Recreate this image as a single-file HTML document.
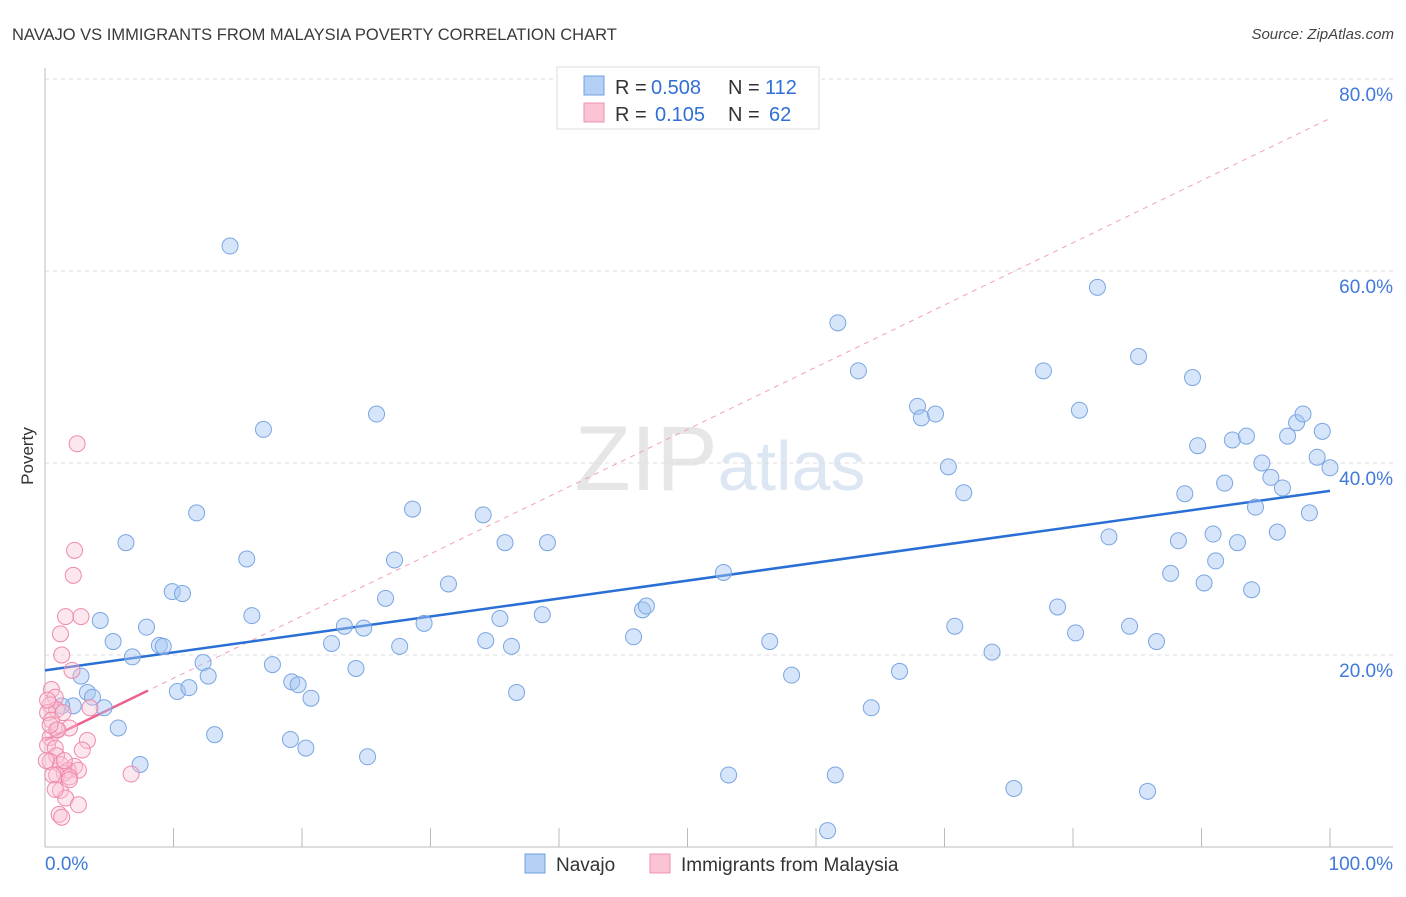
<!DOCTYPE html>
<html><head><meta charset="utf-8"><style>
body{margin:0;background:#fff;font-family:"Liberation Sans",sans-serif;}
svg text{font-family:"Liberation Sans",sans-serif;}
</style></head><body>
<svg id="chart" width="1406" height="892" xmlns="http://www.w3.org/2000/svg">
<text x="12" y="40" font-size="16.5" fill="#3a3a3a">NAVAJO VS IMMIGRANTS FROM MALAYSIA POVERTY CORRELATION CHART</text>
<text x="1394" y="39" font-size="15" fill="#444" text-anchor="end" font-style="italic">Source: ZipAtlas.com</text>
<text x="720" y="490" font-size="92" text-anchor="middle" fill="#e6e6e6" font-family="Liberation Serif">ZIP<tspan fill="#dde6f3" font-family="Liberation Sans" font-size="70">atlas</tspan></text>
<text transform="translate(33,456) rotate(-90)" font-size="17" fill="#333" text-anchor="middle">Poverty</text>
<g id="grid"></g><g id="axes"></g><g id="lines"></g><g id="pts"></g>
<g>
<rect x="557" y="67" width="262" height="62" fill="#fff" stroke="#ddd"/>
<rect x="584" y="76" width="20" height="19" fill="#b5d0f5" stroke="#6fa0e0"/>
<rect x="584" y="103" width="20" height="19" fill="#fac4d4" stroke="#ef90ae"/>
<text y="94" font-size="20" fill="#333"><tspan x="615">R =</tspan><tspan x="651" fill="#2f6fd6">0.508</tspan><tspan x="728">N =</tspan><tspan x="765" fill="#2f6fd6">112</tspan></text>
<text y="121" font-size="20" fill="#333"><tspan x="615">R =</tspan><tspan x="655" fill="#2f6fd6">0.105</tspan><tspan x="728">N =</tspan><tspan x="769" fill="#2f6fd6">62</tspan></text>
</g>
<g>
<rect x="525" y="854" width="20" height="19" fill="#b5d0f5" stroke="#6fa0e0"/>
<text x="556" y="871" font-size="19" fill="#333">Navajo</text>
<rect x="650" y="854" width="20" height="19" fill="#fac4d4" stroke="#ef90ae"/>
<text x="681" y="871" font-size="19" fill="#333">Immigrants from Malaysia</text>
</g>
</svg>
<script>
const xTicks=[0,10,20,30,40,50,60,70,80,90,100];
const yTicks=[20,40,60,80];
const navajoX=[14.4,17.0,25.8,6.3,11.8,15.7,9.9,10.7,4.3,5.3,7.9,8.9,9.2,6.8,2.8,3.3,3.7,4.6,2.2,1.3,5.7,7.4,10.3,11.2,12.3,12.7,13.2,16.1,17.7,19.2,19.7,20.7,19.1,20.3,22.3,23.3,24.8,24.2,25.1,26.5,27.2,27.6,28.6,29.5,31.4,34.1,34.3,35.4,35.8,36.3,36.7,38.7,39.1,45.8,46.5,46.8,52.8,53.2,56.4,58.1,60.9,61.5,61.7,63.3,66.5,64.3,67.9,68.2,69.3,70.3,71.5,70.8,73.7,75.4,77.7,78.8,80.2,80.5,81.9,82.8,84.4,85.1,85.8,86.5,87.6,88.2,88.7,89.3,89.7,90.2,90.9,91.1,91.8,92.4,92.8,93.5,93.9,94.2,94.7,95.4,95.9,96.3,96.7,97.4,97.9,98.4,99.0,99.4,100];
const navajoY=[62.6,43.5,45.1,31.7,34.8,30.0,26.6,26.4,23.6,21.4,22.9,21.0,20.9,19.8,17.8,16.1,15.6,14.5,14.7,14.7,12.4,8.6,16.2,16.6,19.2,17.8,11.7,24.1,19.0,17.2,16.9,15.5,11.2,10.3,21.2,23.0,22.8,18.6,9.4,25.9,29.9,20.9,35.2,23.3,27.4,34.6,21.5,23.8,31.7,20.9,16.1,24.2,31.7,21.9,24.7,25.1,28.6,7.5,21.4,17.9,1.7,7.5,54.6,49.6,18.3,14.5,45.9,44.7,45.1,39.6,36.9,23.0,20.3,6.1,49.6,25.0,22.3,45.5,58.3,32.3,23.0,51.1,5.8,21.4,28.5,31.9,36.8,48.9,41.8,27.5,32.6,29.8,37.9,42.4,31.7,42.8,26.8,35.4,40.0,38.5,32.8,37.4,42.8,44.2,45.1,34.8,40.6,43.3,39.5];
const malX=[2.5,2.3,2.2,1.6,2.8,1.2,1.3,2.1,0.5,0.8,0.4,0.9,1.4,0.2,0.5,1.9,0.9,0.4,3.3,0.2,0.8,2.9,0.9,0.4,1.2,2.3,1.8,2.6,1.5,0.9,6.7,1.9,0.6,1.2,1.6,2.6,1.1,1.3,1.0,0.4,1.5,3.5,0.8,1.9,0.2,0.1];
const malY=[42.0,30.9,28.3,24.0,24.0,22.2,20.0,18.4,16.4,15.6,14.8,14.3,14.0,14.0,13.2,12.4,12.2,11.4,11.1,10.6,10.3,10.1,9.5,8.9,8.6,8.4,8.0,8.0,7.7,7.5,7.6,7.3,7.5,5.9,5.1,4.4,3.4,3.1,12.2,12.7,9.0,14.5,6.0,7.0,15.3,9.0];
const navajoTrend=[18.4,37.1];
const malTrend=[11.1,75.9];
const malSolidEnd=8;
const sx=v=>45+v*12.85, sy=v=>847-v*9.6;
const NS="http://www.w3.org/2000/svg";
function mk(tag,attrs,parent){const e=document.createElementNS(NS,tag);for(const k in attrs)e.setAttribute(k,attrs[k]);document.getElementById(parent).appendChild(e);return e;}
yTicks.forEach(t=>{
 const g=mk('line',{x1:45,x2:1393,y1:sy(t),y2:sy(t),stroke:'#ddd','stroke-dasharray':'4,4'},'grid');
 
 
 const l=mk('text',{x:1393,y:sy(t)+22,'font-size':19,fill:'#3f7ad8','text-anchor':'end'},'grid');l.textContent=t.toFixed(1)+'%';
 
 
});
const ax=mk('line',{x1:45,x2:45,y1:68,y2:847,stroke:'#bbb'},'axes');


const bx=mk('line',{x1:45,x2:1393,y1:847,y2:847,stroke:'#bbb'},'axes');


xTicks.forEach(t=>{const e=mk('line',{x1:sx(t),x2:sx(t),y1:828,y2:847,stroke:'#bbb'},'axes');
 
 });
[[0,'0.0%','start',45],[100,'100.0%','end',1393]].forEach(([t,s,a,x])=>{const e=mk('text',{x:x,y:870,'font-size':19,fill:'#3f7ad8','text-anchor':a},'axes');e.textContent=s;
 
 });
const md=mk('line',{x1:sx(0),y1:sy(malTrend[0]),x2:sx(100),y2:sy(malTrend[1]),stroke:'#f0a0b8','stroke-dasharray':'5,5','stroke-width':1},'lines');


const bt=mk('line',{x1:sx(0),y1:sy(navajoTrend[0]),x2:sx(100),y2:sy(navajoTrend[1]),stroke:'#2a6fd6','stroke-width':2.5},'lines');


navajoX.forEach((x,i)=>{const c=mk('circle',{cx:sx(x),cy:sy(navajoY[i]),r:8,fill:'rgba(165,198,242,0.45)',stroke:'#7aa6e2','stroke-width':1},'pts');
 
 });
malX.forEach((x,i)=>{const c=mk('circle',{cx:sx(x),cy:sy(malY[i]),r:8,fill:'rgba(250,195,212,0.4)',stroke:'#ee8aaa','stroke-width':1},'pts');
 
 });
const ms=mk('line',{x1:sx(0),y1:sy(malTrend[0]),x2:sx(malSolidEnd),y2:sy(malTrend[0]+(malTrend[1]-malTrend[0])*malSolidEnd/100),stroke:'#e8628c','stroke-width':2.5},'lines');


</script>
</body></html>
